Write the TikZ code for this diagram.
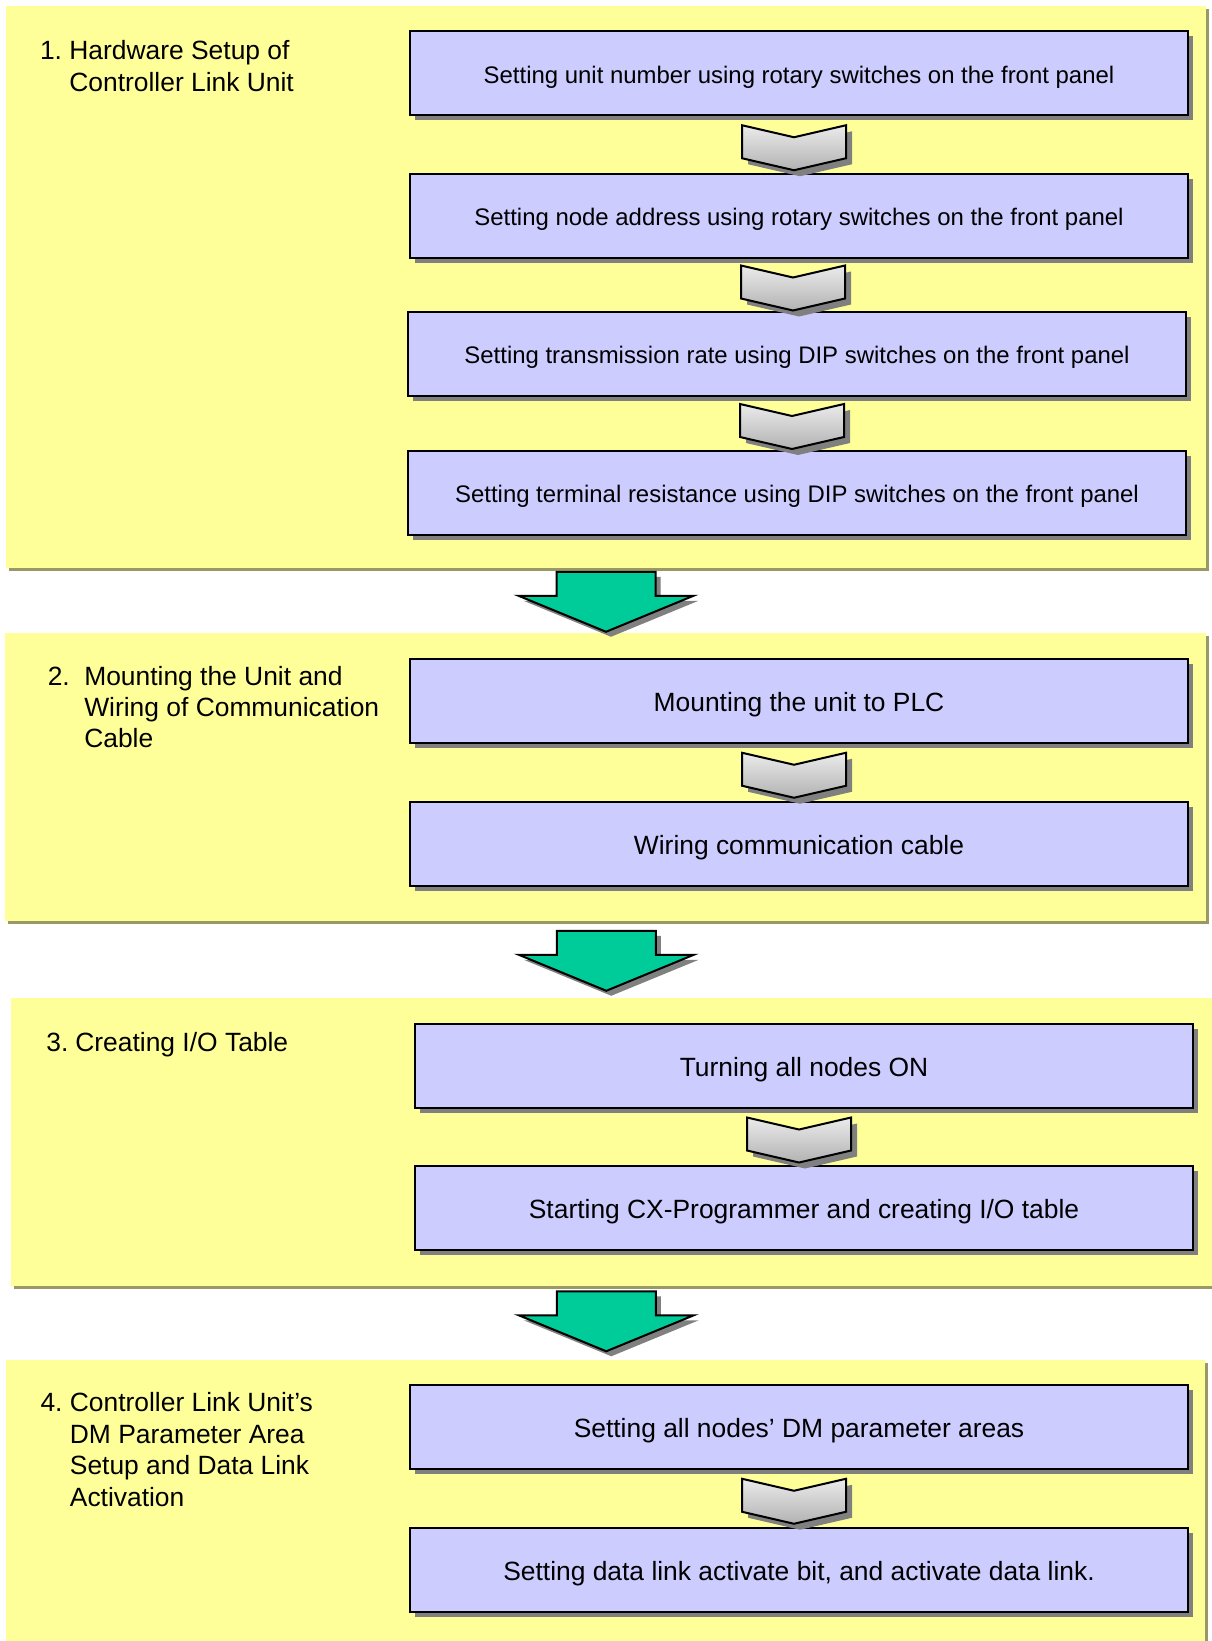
\documentclass[tikz,border=0pt]{standalone}
\usepackage{fontspec}
\setmainfont{Liberation Sans}
\usepackage{xcolor}
\usetikzlibrary{calc,shadows}

\definecolor{panelyellow}{HTML}{FFFF99}
\definecolor{panelshadow}{HTML}{999966}
\definecolor{boxblue}{HTML}{CCCCFF}
\definecolor{boxshadow}{HTML}{808080}
\definecolor{flowgreen}{HTML}{00CC99}
\definecolor{chevtop}{HTML}{EBEBEB}
\definecolor{chevbottom}{HTML}{B2B2B2}

\tikzset{
  panel/.style={anchor=north west, inner sep=0pt, fill=panelyellow,
    drop shadow={shadow xshift=2.25pt, shadow yshift=-2.25pt, fill=panelshadow, opacity=1}},
  stepbox/.style={draw, line width=1.5pt, fill=boxblue, minimum width=584pt, minimum height=63pt,
    text height=15.8pt, text depth=0pt, font=\fontsize{19.8}{23.6}\selectfont,
    drop shadow={shadow xshift=3.75pt, shadow yshift=-3.75pt, fill=boxshadow, opacity=1}},
  smallstep/.style={text height=14.7pt, font=\fontsize{17.95}{21}\selectfont},
  phase/.style={anchor=base west, inner sep=0pt, font=\fontsize{19.8}{23.6}\selectfont},
  pics/chevron/.style={code={
    \fill[boxshadow, shift={(6,6)}] (-57,-19.5) -- (-5,-7.5) -- (47,-19.5) -- (47,13.5) -- (-5,25.5) -- (-57,13.5) -- cycle;
    \draw[line width=1.5pt, top color=chevtop, bottom color=chevbottom] (-57,-19.5) -- (-5,-7.5) -- (47,-19.5) -- (47,13.5) -- (-5,25.5) -- (-57,13.5) -- cycle;
  }},
  pics/bigarrow/.style={code={
    \fill[boxshadow, shift={(5,5)}] (-49.5,-29) -- (49.5,-29) -- (49.5,-5) -- (87.5,-5) -- (0,31) -- (-87.5,-5) -- (-49.5,-5) -- cycle;
    \draw[line width=1.5pt, fill=flowgreen] (-49.5,-29) -- (49.5,-29) -- (49.5,-5) -- (87.5,-5) -- (0,31) -- (-87.5,-5) -- (-49.5,-5) -- cycle;
  }}
}

\begin{document}
\begin{tikzpicture}[x=0.75pt, y=-0.75pt]
\useasboundingbox (0,0) rectangle (1212,1641);

\node (p1) at (6,6) [panel, minimum width=900pt, minimum height=421.5pt] {};
\node (p2) at (5,633) [panel, minimum width=900.75pt, minimum height=216pt] {};
\node (p3) at (11,998) [panel, minimum width=902.25pt, minimum height=216pt] {};
\node (p4) at (6,1360) [panel, minimum width=899.25pt, minimum height=225pt] {};

\node (l1) at (39.8,60) [phase] {\begin{tabular}[t]{@{}l@{}l@{}}\makebox[22pt][l]{1.} & Hardware Setup of\\ & Controller Link Unit\end{tabular}};
\node (l2) at (47.5,685) [phase] {\begin{tabular}[t]{@{}l@{}l@{}}\makebox[27.4pt][l]{2.} & Mounting the Unit and\\ & Wiring of Communication\\ & Cable\end{tabular}};
\node (l3) at (46.2,1051) [phase] {\makebox[21.7pt][l]{3.}Creating I/O Table};
\node (l4) at (40.3,1411.7) [phase] {\begin{tabular}[t]{@{}l@{}l@{}}\makebox[22pt][l]{4.} & Controller Link Unit’s\\ & DM Parameter Area\\ & Setup and Data Link\\ & Activation\end{tabular}};

\node (b11) at (799,73.5) [stepbox, smallstep] {Setting unit number using rotary switches on the front panel};
\node (b12) at (799,216) [stepbox, smallstep] {Setting node address using rotary switches on the front panel};
\node (b13) at (797,354) [stepbox, smallstep] {Setting transmission rate using DIP switches on the front panel};
\node (b14) at (797,493) [stepbox, smallstep] {Setting terminal resistance using DIP switches on the front panel};

\node (b21) at (799,701) [stepbox] {Mounting the unit to PLC};
\node (b22) at (799,843.5) [stepbox] {Wiring communication cable};

\node (b31) at (804,1066) [stepbox] {Turning all nodes ON};
\node (b32) at (804,1208) [stepbox] {Starting CX-Programmer and creating I/O table};

\node (b41) at (799,1427) [stepbox] {Setting all nodes’ DM parameter areas};
\node (b42) at (799,1569.5) [stepbox] {Setting data link activate bit, and activate data link.};

\pic at ($(b11.south)!0.5!(b12.north)$) {chevron};
\pic at ($(b12.south)!0.5!(b13.north)$) {chevron};
\pic at ($(b13.south)!0.5!(b14.north)$) {chevron};
\pic at ($(b21.south)!0.5!(b22.north)$) {chevron};
\pic at ($(b31.south)!0.5!(b32.north)$) {chevron};
\pic at ($(b41.south)!0.5!(b42.north)$) {chevron};

\pic at ($(p1.south)!0.5!(p2.north)$) {bigarrow};
\pic at ($(p2.south)!0.5!(p3.north)+(-3,0)$) {bigarrow};
\pic at ($(p3.south)!0.5!(p4.north)+(-3,-3)$) {bigarrow};
\end{tikzpicture}
\end{document}
